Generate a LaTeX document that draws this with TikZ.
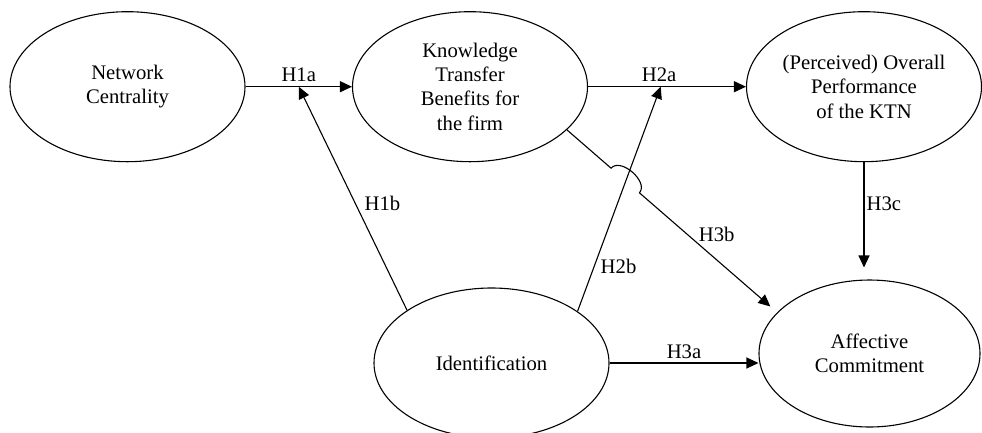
\documentclass[tikz,border=0pt]{standalone}
\usepackage{fontspec}
\setmainfont{Liberation Serif}
\usetikzlibrary{shapes.geometric,arrows.meta,calc,positioning}
\begin{document}
\begin{tikzpicture}[
        x=1pt, y=-1pt,
        latent/.style={draw, ellipse, line width=1.1pt, minimum width=235pt, minimum height=150pt, inner sep=0pt, align=center, font=\fontsize{20.7}{24.3}\selectfont},
        hyp/.style={draw, line width=1.1pt, -{Triangle[length=12pt,width=11pt]}},
        lbl/.style={inner sep=1pt, font=\fontsize{20.7}{24.3}\selectfont},
    ]
    \useasboundingbox (0,0) rectangle (982,432);
    \node[latent](nc) at (127.5,86.7){Network\\Centrality};
    \node[latent](ktb) at (470,86.7){Knowledge\\Transfer\\Benefits for\\the firm};
    \node[latent](perf) at (864,86.7){(Perceived) Overall\\Performance\\of the KTN};
    \node[latent](ident) at (491.5,363){Identification};
    \node[latent, minimum width=221pt, minimum height=147pt](affect) at (869.5,353.5){Affective\\Commitment};
    \coordinate (h1bend) at ($(nc.east)!0.5!(ktb.west)$);
    \coordinate (h2bend) at ($(ktb.east)!0.46!(perf.west)$);
    \coordinate (h3bstart) at (ktb.-24);
    \coordinate (h3bend) at (affect.156);
    \coordinate (hopa) at ($(h3bstart)!0.21!(h3bend)$);
    \coordinate (hopb) at ($(h3bstart)!0.345!(h3bend)$);
    \draw[hyp] (nc.east) -- node[lbl, above=3pt]{H1a} (ktb.west);
    \draw[hyp] (ident.148) -- node[lbl, pos=0.48, right=8pt]{H1b} (h1bend);
    \draw[hyp] (ktb.east) -- node[lbl, pos=0.45, above=3pt]{H2a} (perf.west);
    \draw[hyp] (ident.31) -- node[lbl, pos=0.2, right=5pt]{H2b} (h2bend);
    \draw[hyp] (ident.east) -- node[lbl, above=3pt]{H3a} (ident.east -| affect.west);
    \draw[hyp, shorten >=9pt] (h3bstart) -- (hopa) to[out=90, in=90, relative] (hopb) -- node[lbl, pos=0.42, anchor=south west]{H3b} (h3bend);
    \draw[hyp, shorten >=12pt] (perf.south) -- node[lbl, pos=0.35, right=1pt]{H3c} (perf.south |- affect.north);
\end{tikzpicture}
\end{document}
